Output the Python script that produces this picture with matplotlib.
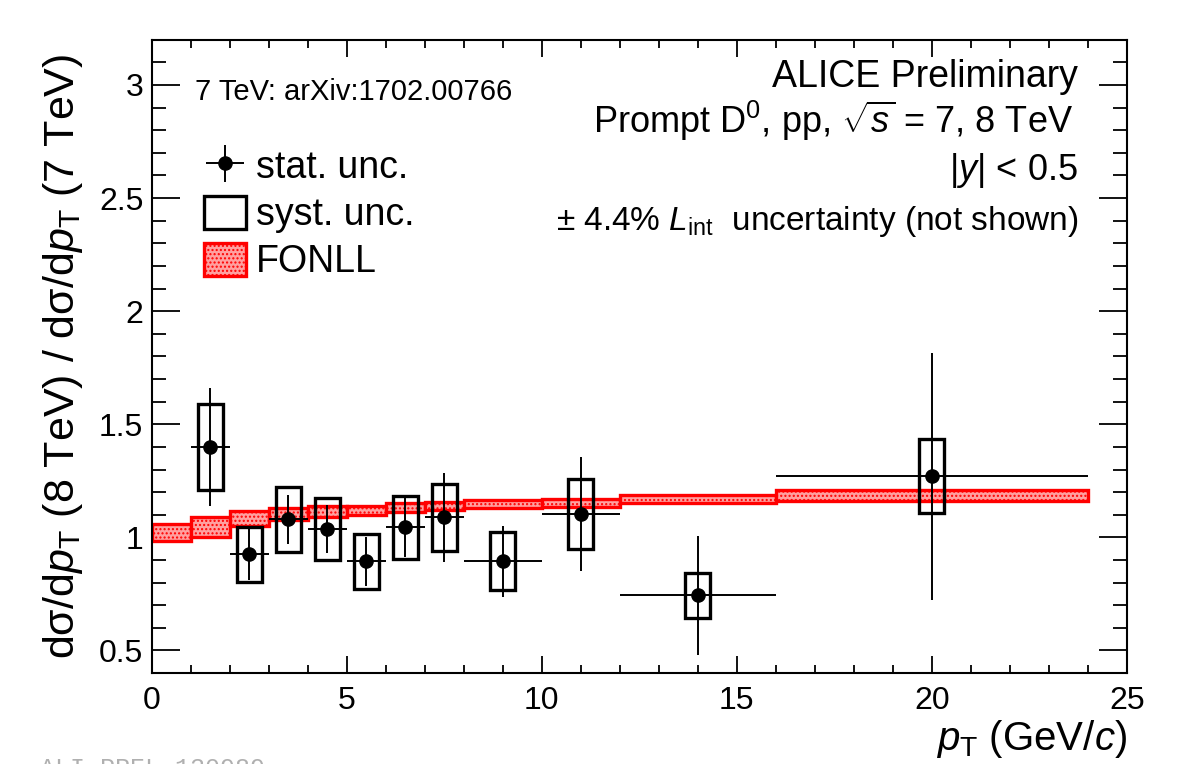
import matplotlib
matplotlib.use("Agg")
import matplotlib.pyplot as plt
from matplotlib.patches import Rectangle
from matplotlib.ticker import MultipleLocator

plt.rcParams['font.family'] = ['Liberation Sans', 'DejaVu Sans']
plt.rcParams['mathtext.fontset'] = 'custom'
plt.rcParams['mathtext.rm'] = 'Liberation Sans'
plt.rcParams['mathtext.it'] = 'Liberation Sans:italic'
plt.rcParams['mathtext.bf'] = 'Liberation Sans:bold'

# ratio 8 TeV / 7 TeV, prompt D0
pt = [1.5, 2.5, 3.5, 4.5, 5.5, 6.5, 7.5, 9, 11, 14, 20]
pt_lo = [1, 2, 3, 4, 5, 6, 7, 8, 10, 12, 16]
pt_hi = [2, 3, 4, 5, 6, 7, 8, 10, 12, 16, 24]
ratio = [1.40, 0.925, 1.08, 1.035, 0.894, 1.044, 1.088, 0.894, 1.102, 0.743, 1.27]
stat = [0.26, 0.112, 0.109, 0.106, 0.108, 0.13, 0.197, 0.157, 0.252, 0.265, 0.546]
syst = [0.19, 0.122, 0.143, 0.137, 0.122, 0.141, 0.148, 0.128, 0.155, 0.10, 0.164]

# FONLL band
fonll_edges = [0, 1, 2, 3, 4, 5, 6, 7, 8, 10, 12, 16, 24]
fonll_lo = [0.985, 1.00, 1.05, 1.075, 1.088, 1.097, 1.11, 1.12, 1.128, 1.133, 1.15, 1.16]
fonll_hi = [1.06, 1.09, 1.115, 1.128, 1.137, 1.14, 1.15, 1.155, 1.164, 1.17, 1.186, 1.21]

yticks = [0.5, 1, 1.5, 2, 2.5, 3]
ytick_labels = ['0.5', '1', '1.5', '2', '2.5', '3']
xticks = [0, 5, 10, 15, 20, 25]
xtick_labels = ['0', '5', '10', '15', '20', '25']

fig = plt.figure(figsize=(11.85, 7.64), dpi=100)
ax = fig.add_axes([0.128, 0.119, 0.823, 0.829])

band_c = [(fonll_edges[i] + fonll_edges[i+1]) / 2 for i in range(len(fonll_lo))]
band_w = [fonll_edges[i+1] - fonll_edges[i] for i in range(len(fonll_lo))]
band_h = [h - l for h, l in zip(fonll_hi, fonll_lo)]
pink = '#ffa0a0'
ax.bar(band_c, band_h, width=band_w, bottom=fonll_lo, facecolor=pink,
       edgecolor='red', hatch='....', linewidth=2.4, zorder=2)

box_h = [2 * s for s in syst]
box_b = [r - s for r, s in zip(ratio, syst)]
ax.bar(pt, box_h, width=0.64, bottom=box_b, fill=False, edgecolor='black',
       linewidth=2.4, zorder=3)

xerr = [[p - l for p, l in zip(pt, pt_lo)], [h - p for p, h in zip(pt, pt_hi)]]
eb = ax.errorbar(pt, ratio, xerr=xerr, yerr=stat, fmt='o', color='black',
                 ms=9.5, elinewidth=1.4, capsize=0, zorder=4)

ax.set_xlim(0, 25)
ax.set_ylim(0.4, 3.2)
ax.set_xticks(xticks)
ax.set_xticklabels(xtick_labels)
ax.set_yticks(yticks)
ax.set_yticklabels(ytick_labels)
ax.xaxis.set_minor_locator(MultipleLocator(1))
ax.yaxis.set_minor_locator(MultipleLocator(0.1))
ax.tick_params(which='both', direction='in', top=True, right=True, labelsize=23)
ax.tick_params(axis='x', which='major', length=12, width=1.3, pad=9)
ax.tick_params(axis='x', which='minor', length=6, width=1.3)
ax.tick_params(axis='y', which='major', length=20, width=1.3, pad=6)
ax.tick_params(axis='y', which='minor', length=10, width=1.3)
for s in ax.spines.values():
    s.set_linewidth(1.5)

ax.set_xlabel(r'$p_{\rm T}$ (GeV/$c$)', fontsize=29, loc='right', labelpad=2)
ax.set_ylabel(r'dσ/d$p_{\rm T}$ (8 TeV) / dσ/d$p_{\rm T}$ (7 TeV)', fontsize=31, labelpad=10)

ax.text(0.95, 0.925, 'ALICE Preliminary', transform=ax.transAxes,
        ha='right', va='baseline', fontsize=27)
ax.text(0.945, 0.852, r'Prompt D$^0$, pp, $\sqrt{s}$ = 7, 8 TeV', transform=ax.transAxes,
        ha='right', va='baseline', fontsize=26)
ax.text(0.95, 0.779, r'$|y|$ < 0.5', transform=ax.transAxes,
        ha='right', va='baseline', fontsize=26)
ax.text(0.95, 0.7, r'$\pm$ 4.4% $L_{\rm int}$  uncertainty (not shown)', transform=ax.transAxes,
        ha='right', va='baseline', fontsize=24)
ax.text(0.044, 0.905, '7 TeV: arXiv:1702.00766', transform=ax.transAxes,
        ha='left', va='baseline', fontsize=21)

h_syst = Rectangle((0, 0), 1, 1, fill=False, edgecolor='black', linewidth=2.4)
h_fonll = Rectangle((0, 0), 1, 1, facecolor=pink, edgecolor='red', hatch='....', linewidth=2.4)
ax.legend([eb, h_syst, h_fonll], ['stat. unc.', 'syst. unc.', 'FONLL'],
          loc='upper left', bbox_to_anchor=(0.054, 0.828), frameon=False,
          fontsize=27, handlelength=1.1, handleheight=1.0, handletextpad=0.28,
          labelspacing=0.25, borderpad=0, borderaxespad=0)

fig.text(40 / 1185, 1 - 757 / 764, 'ALI-PREL-130989', family='Liberation Mono',
         color='#b0b0b0', fontsize=18, va='top', ha='left')

fig.savefig('out.png', dpi=100)
